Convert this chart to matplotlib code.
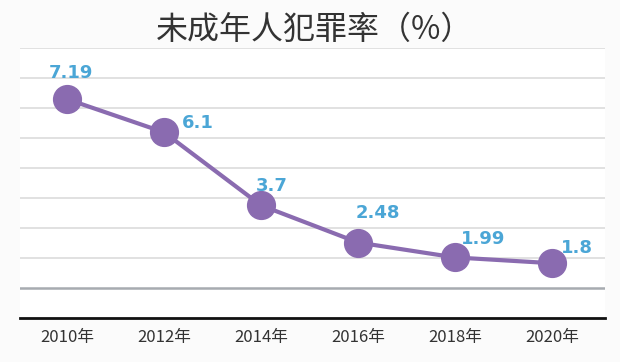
import matplotlib
matplotlib.use("Agg")
import matplotlib.pyplot as plt

plt.rcParams['font.family'] = ['Noto Sans CJK SC', 'DejaVu Sans']

# data
years = ["2010年", "2012年", "2014年", "2016年", "2018年", "2020年"]
rates = [7.19, 6.1, 3.7, 2.48, 1.99, 1.8]
value_labels = ["7.19", "6.1", "3.7", "2.48", "1.99", "1.8"]

# label offsets in points (x, y) relative to each marker
label_offsets = [(3, 19), (24, 6.5), (8, 14), (14, 21), (20, 13), (18, 11)]

purple = "#8a6bb0"
blue = "#4ba6d6"

fig = plt.figure(figsize=(6.2, 3.62), dpi=100, facecolor="#fbfbfb")
ax = fig.add_axes([20 / 620, 44 / 362, 585 / 620, 270 / 362])
ax.set_facecolor("white")

x = list(range(len(years)))
ax.set_xlim(-0.485, 5.546)
ax.set_ylim(0, 8.87)

# decorative horizontal rules, evenly spaced in axes fraction
for k in range(2, 10):
    ax.plot([0, 1], [k / 9, k / 9], transform=ax.transAxes,
            color="#dedede", lw=1.3, zorder=1)
ax.plot([0, 1], [1 / 9, 1 / 9], transform=ax.transAxes,
        color="#a7abb0", lw=1.8, zorder=1)
ax.plot([0, 1], [0, 0], transform=ax.transAxes,
        color="#111111", lw=2.0, zorder=1, clip_on=False)

ax.plot(x, rates, color=purple, lw=3, marker="o", markersize=20,
        markerfacecolor=purple, markeredgecolor=purple, zorder=3, clip_on=False)

for xi, r, lab, off in zip(x, rates, value_labels, label_offsets):
    ax.annotate(lab, (xi, r), xytext=off, textcoords="offset points",
                ha="center", va="center", color=blue, fontsize=13,
                fontweight="bold", family="DejaVu Sans", zorder=4)

ax.set_xticks(x)
ax.set_xticklabels(years, fontsize=12, color="#333333")
ax.tick_params(axis="x", length=0, pad=8)
ax.set_yticks([])
for s in ax.spines.values():
    s.set_visible(False)

fig.text(0.507, 0.917, "未成年人犯罪率（%）", ha="center", va="center",
         fontsize=23, color="#333333")

fig.savefig("out.png", dpi=100, facecolor=fig.get_facecolor())
